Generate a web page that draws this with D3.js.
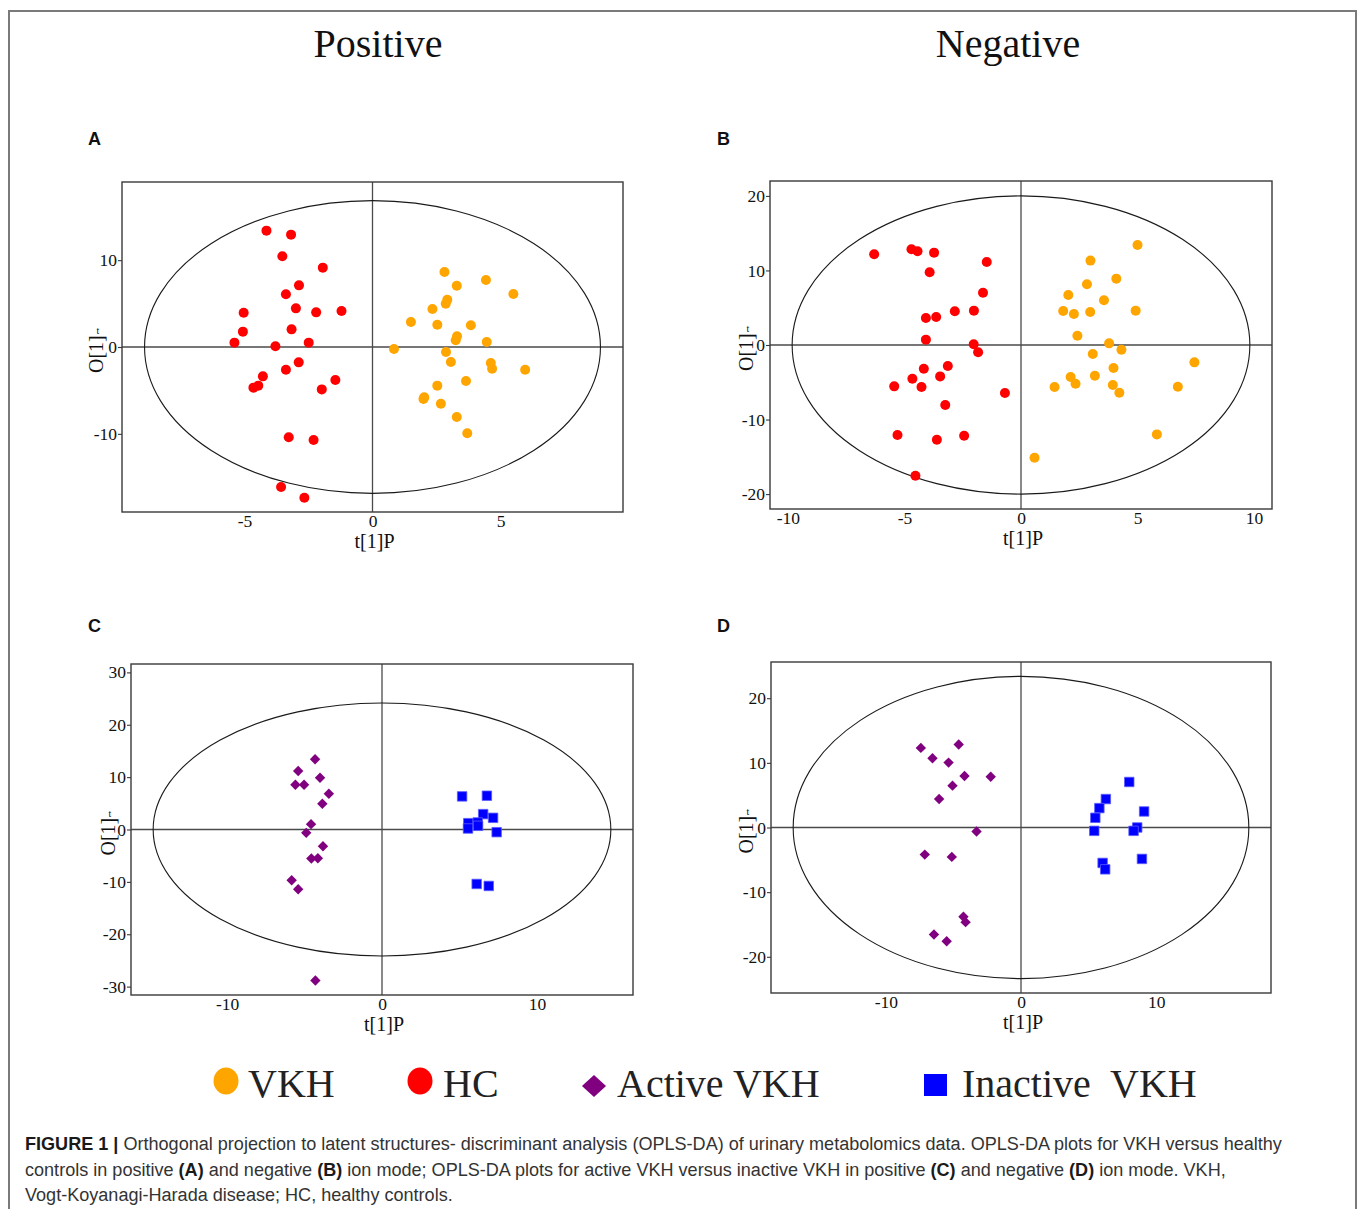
<!DOCTYPE html>
<html>
<head>
<meta charset="utf-8">
<script src="https://cdn.jsdelivr.net/npm/d3@7"></script>
<style>
  html, body { margin: 0; padding: 0; background: #fff; }
  svg { display: block; }
</style>
</head>
<body>
<svg id="fig" width="1358" height="1209"></svg>
<script>
// ---- OPLS-DA scores: [t[1]P, O[1]] for each sample ----

// Positive ion mode, VKH vs HC
const posHC = [
  [-4.14, 13.4], [-3.18, 12.94], [-3.52, 10.44], [-1.94, 9.14], [-2.87, 7.10],
  [-3.38, 6.07], [-2.99, 4.45], [-5.03, 3.95], [-2.20, 3.99], [-1.21, 4.15],
  [-5.06, 1.77], [-3.16, 2.03], [-5.39, 0.50], [-3.79, 0.08], [-2.49, 0.50],
  [-2.88, -1.77], [-3.38, -2.61], [-4.28, -3.38], [-4.65, -4.68], [-4.46, -4.45],
  [-1.45, -3.80], [-1.98, -4.88], [-3.27, -10.40], [-2.30, -10.71], [-3.57, -16.12],
  [-2.66, -17.35]
];
const posVKH = [
  [2.81, 8.64], [4.43, 7.72], [3.29, 7.06], [5.50, 6.10], [2.92, 5.45],
  [2.86, 4.99], [2.34, 4.38], [1.50, 2.88], [2.53, 2.57], [3.84, 2.50],
  [3.30, 1.23], [3.25, 0.77], [4.46, 0.58], [0.84, -0.23], [2.87, -0.58],
  [3.06, -1.73], [4.62, -1.84], [4.67, -2.50], [5.96, -2.61], [3.65, -3.92],
  [2.53, -4.45], [2.02, -5.80], [1.99, -5.99], [2.67, -6.53], [3.29, -8.06],
  [3.70, -9.94]
];

// Negative ion mode, VKH vs HC
const negHC = [
  [-6.30, 12.17], [-4.70, 12.84], [-4.44, 12.57], [-3.73, 12.39], [-1.47, 11.14],
  [-3.92, 9.75], [-1.63, 7.02], [-2.84, 4.52], [-2.02, 4.61], [-4.08, 3.62],
  [-3.64, 3.76], [-4.08, 0.72], [-2.03, 0.09], [-1.84, -0.98], [-3.14, -2.82],
  [-4.17, -3.18], [-3.47, -4.21], [-4.66, -4.52], [-5.44, -5.55], [-4.27, -5.64],
  [-0.69, -6.44], [-3.25, -8.05], [-5.30, -12.08], [-3.61, -12.71], [-2.44, -12.17],
  [-4.53, -17.54]
];
const negVKH = [
  [5.00, 13.42], [2.98, 11.32], [4.09, 8.90], [2.83, 8.14], [2.03, 6.71],
  [3.56, 6.00], [1.81, 4.56], [2.27, 4.16], [2.97, 4.43], [4.92, 4.61],
  [2.42, 1.25], [3.78, 0.22], [4.31, -0.63], [3.08, -1.21], [7.44, -2.33],
  [3.97, -3.09], [2.13, -4.30], [3.17, -4.12], [2.34, -5.19], [1.44, -5.64],
  [3.94, -5.37], [4.22, -6.40], [6.73, -5.59], [5.83, -11.99], [0.58, -15.12]
];

// Positive ion mode, active vs inactive VKH
const posActive = [
  [-4.32, 13.40], [-5.41, 11.17], [-4.00, 9.89], [-5.59, 8.55], [-5.03, 8.55],
  [-3.43, 6.83], [-3.85, 4.91], [-4.58, 1.02], [-4.89, -0.64], [-3.81, -3.19],
  [-4.56, -5.55], [-4.14, -5.49], [-5.83, -9.70], [-5.41, -11.42], [-4.30, -28.84]
];
const posInactive = [
  [5.17, 6.32], [6.77, 6.45], [6.53, 2.94], [7.17, 2.23], [5.57, 1.21],
  [6.18, 1.34], [6.20, 0.70], [5.55, 0.19], [7.40, -0.51], [6.11, -10.40],
  [6.89, -10.78]
];

// Negative ion mode, active vs inactive VKH
const negActive = [
  [-7.41, 12.31], [-4.61, 12.83], [-6.55, 10.71], [-5.36, 10.04], [-4.18, 7.97],
  [-2.24, 7.86], [-5.07, 6.47], [-6.06, 4.40], [-3.29, -0.62], [-7.12, -4.19],
  [-5.12, -4.55], [-4.26, -13.81], [-4.10, -14.64], [-6.44, -16.55], [-5.50, -17.59]
];
const negInactive = [
  [8.01, 7.04], [6.28, 4.40], [5.80, 3.00], [9.11, 2.48], [5.50, 1.50],
  [8.60, 0.00], [8.33, -0.52], [5.42, -0.52], [8.95, -4.86], [6.04, -5.48],
  [6.23, -6.47]
];

// Hotelling's T2 (95%) ellipse semi-axes [t[1]P, O[1]]
const ellipseA = [8.9, 16.85];
const ellipseB = [9.82, 20.0];
const ellipseC = [14.77, 24.15];
const ellipseD = [16.86, 23.38];

// Axis ranges and tick labels
const xDomainA = [-9.78, 9.78], yDomainA = [-19, 19];
const xDomainB = [-10.77, 10.77], yDomainB = [-22, 22];
const xDomainC = [-16.2, 16.2], yDomainC = [-31.6, 31.6];
const xDomainD = [-18.5, 18.5], yDomainD = [-25.6, 25.6];
const xTicksA = [-5, 0, 5], yTicksA = [-10, 0, 10];
const xTicksB = [-10, -5, 0, 5, 10], yTicksB = [-20, -10, 0, 10, 20];
const xTicksC = [-10, 0, 10], yTicksC = [-30, -20, -10, 0, 10, 20, 30];
const xTicksD = [-10, 0, 10], yTicksD = [-20, -10, 0, 10, 20];

const columnTitles = ["Positive", "Negative"];
const legendLabels = ["VKH", "HC", "Active VKH", "Inactive  VKH"];

// ---- styling ----
const COL_VKH = "#FFA500", COL_HC = "#FF0000", COL_ACT = "#800080", COL_INACT = "#0000FF";
const SERIF = "'Liberation Serif', 'Times New Roman', Times, serif";
const SANS = "'Liberation Sans', Arial, Helvetica, sans-serif";

const svg = d3.select("#fig");

// outer figure border (open at the bottom)
svg.append("path")
  .attr("d", "M9,1209 V11 H1356 V1209")
  .attr("fill", "none").attr("stroke", "#7a7a7a").attr("stroke-width", 2);

// column titles
svg.selectAll("text.coltitle").data(columnTitles).join("text")
  .attr("class", "coltitle")
  .attr("x", (d, i) => i === 0 ? 378 : 1008)
  .attr("y", 57)
  .attr("text-anchor", "middle")
  .attr("font-family", SERIF).attr("font-size", 40).attr("fill", "#111")
  .text(d => d);

const panels = [
  { letter: "A", lx: 88, ly: 145, frame: [122, 182, 623, 512], xd: xDomainA, yd: yDomainA,
    xt: xTicksA, yt: yTicksA, ell: ellipseA, ylabX: 103,
    series: [{ data: posHC, shape: "circle", color: COL_HC }, { data: posVKH, shape: "circle", color: COL_VKH }] },
  { letter: "B", lx: 717, ly: 145, frame: [770, 181, 1272, 509], xd: xDomainB, yd: yDomainB,
    xt: xTicksB, yt: yTicksB, ell: ellipseB, ylabX: 753,
    series: [{ data: negHC, shape: "circle", color: COL_HC }, { data: negVKH, shape: "circle", color: COL_VKH }] },
  { letter: "C", lx: 88, ly: 632, frame: [131, 664, 633, 995], xd: xDomainC, yd: yDomainC,
    xt: xTicksC, yt: yTicksC, ell: ellipseC, ylabX: 115,
    series: [{ data: posActive, shape: "diamond", color: COL_ACT }, { data: posInactive, shape: "square", color: COL_INACT }] },
  { letter: "D", lx: 717, ly: 632, frame: [771, 662, 1271, 993], xd: xDomainD, yd: yDomainD,
    xt: xTicksD, yt: yTicksD, ell: ellipseD, ylabX: 753,
    series: [{ data: negActive, shape: "diamond", color: COL_ACT }, { data: negInactive, shape: "square", color: COL_INACT }] }
];

const fmt = d => String(d);   // plain hyphen for negatives

panels.forEach(p => {
  const [x0, y0, x1, y1] = p.frame;
  const x = d3.scaleLinear().domain(p.xd).range([x0, x1]);
  const y = d3.scaleLinear().domain(p.yd).range([y1, y0]);
  const g = svg.append("g");

  // panel letter
  svg.append("text").attr("x", p.lx).attr("y", p.ly)
    .attr("font-family", SANS).attr("font-weight", "bold").attr("font-size", 18)
    .attr("fill", "#111").text(p.letter);

  // zero cross lines
  g.append("line").attr("x1", x(0)).attr("x2", x(0)).attr("y1", y0).attr("y2", y1)
    .attr("stroke", "#4a4a4a").attr("stroke-width", 1.3);
  g.append("line").attr("x1", x0).attr("x2", x1).attr("y1", y(0)).attr("y2", y(0))
    .attr("stroke", "#4a4a4a").attr("stroke-width", 1.3);

  // confidence ellipse
  g.append("ellipse")
    .attr("cx", x(0)).attr("cy", y(0))
    .attr("rx", x(p.ell[0]) - x(0)).attr("ry", y(0) - y(p.ell[1]))
    .attr("fill", "none").attr("stroke", "#1a1a1a").attr("stroke-width", 1.1);

  // points
  p.series.forEach(s => {
    if (s.shape === "circle") {
      g.append("g").selectAll("circle").data(s.data).join("circle")
        .attr("cx", d => x(d[0])).attr("cy", d => y(d[1])).attr("r", 5)
        .attr("fill", s.color);
    } else if (s.shape === "diamond") {
      const sym = d3.symbol(d3.symbolSquare, 54);
      g.append("g").selectAll("path").data(s.data).join("path")
        .attr("d", sym)
        .attr("transform", d => `translate(${x(d[0])},${y(d[1])}) rotate(45)`)
        .attr("fill", s.color);
    } else {
      const sym = d3.symbol(d3.symbolSquare, 90);
      g.append("g").selectAll("path").data(s.data).join("path")
        .attr("d", sym)
        .attr("transform", d => `translate(${x(d[0])},${y(d[1])})`)
        .attr("fill", s.color).attr("stroke", "#5c5cff").attr("stroke-width", 0.8);
    }
  });

  // frame
  g.append("rect").attr("x", x0).attr("y", y0).attr("width", x1 - x0).attr("height", y1 - y0)
    .attr("fill", "none").attr("stroke", "#3a3a3a").attr("stroke-width", 1.4);

  // y axis
  const ya = svg.append("g").attr("transform", `translate(${x0},0)`)
    .call(d3.axisLeft(y).tickValues(p.yt).tickSize(4).tickPadding(1).tickFormat(fmt));
  ya.select(".domain").remove();
  ya.selectAll("line").attr("stroke", "#3a3a3a").attr("stroke-width", 1.1);
  ya.selectAll("text").attr("font-family", SERIF).attr("font-size", 17.5).attr("fill", "#111");

  // x axis
  const xa = svg.append("g").attr("transform", `translate(0,${y1})`)
    .call(d3.axisBottom(x).tickValues(p.xt).tickSize(0).tickPadding(3).tickFormat(fmt));
  xa.select(".domain").remove();
  xa.selectAll("text").attr("font-family", SERIF).attr("font-size", 17.5).attr("fill", "#111");

  // axis titles
  svg.append("text").attr("x", (x0 + x1) / 2 + 2).attr("y", y1 + 36)
    .attr("text-anchor", "middle").attr("font-family", SERIF).attr("font-size", 20)
    .attr("fill", "#111").text("t[1]P");
  const cy = (y0 + y1) / 2;
  svg.append("text")
    .attr("transform", `translate(${p.ylabX},${cy + 26}) rotate(-90)`)
    .attr("font-family", SERIF).attr("font-size", 20).attr("fill", "#111")
    .text("O[1]");
  svg.append("text").attr("x", p.ylabX - 5).attr("y", cy - 13)
    .attr("text-anchor", "middle").attr("font-family", SERIF).attr("font-size", 10)
    .attr("fill", "#111").text("t");
});

// ---- legend ----
const leg = svg.append("g");
const legMarks = [
  { shape: "circle", color: COL_VKH, cx: 226, cy: 1081, tx: 248 },
  { shape: "circle", color: COL_HC, cx: 420, cy: 1081, tx: 443 },
  { shape: "diamond", color: COL_ACT, cx: 594, cy: 1086, tx: 617 },
  { shape: "square", color: COL_INACT, cx: 935.5, cy: 1085, tx: 962 }
];
legMarks.forEach((m, i) => {
  if (m.shape === "circle") {
    leg.append("ellipse").attr("cx", m.cx).attr("cy", m.cy).attr("rx", 12.5).attr("ry", 13.5)
      .attr("fill", m.color);
  } else if (m.shape === "diamond") {
    leg.append("path").attr("d", d3.symbol(d3.symbolSquare, 290)())
      .attr("transform", `translate(${m.cx},${m.cy}) scale(1,0.92) rotate(45)`)
      .attr("fill", m.color);
  } else {
    leg.append("rect").attr("x", m.cx - 11.5).attr("y", m.cy - 11).attr("width", 23).attr("height", 22)
      .attr("fill", m.color);
  }
  leg.append("text").attr("x", m.tx).attr("y", 1097)
    .attr("font-family", SERIF).attr("font-size", 40).attr("fill", "#222")
    .style("white-space", "pre")
    .text(legendLabels[i]);
});

// ---- caption ----
const captionLines = [
  [["FIGURE 1 | ", true], ["Orthogonal projection to latent structures- discriminant analysis (OPLS-DA) of urinary metabolomics data. OPLS-DA plots for VKH versus healthy", false]],
  [["controls in positive ", false], ["(A)", true], [" and negative ", false], ["(B)", true],
   [" ion mode; OPLS-DA plots for active VKH versus inactive VKH in positive ", false], ["(C)", true],
   [" and negative ", false], ["(D)", true], [" ion mode. VKH,", false]],
  [["Vogt-Koyanagi-Harada disease; HC, healthy controls.", false]]
];
const capBase = [1150, 1175.5, 1201];
const capNodes = captionLines.map((segs, li) => {
  const t = svg.append("text").attr("x", 25).attr("y", capBase[li])
    .attr("font-family", SANS).attr("font-size", 17).attr("fill", "#333")
    .style("white-space", "pre");
  segs.forEach(([txt, bold]) => {
    t.append("tspan").attr("font-weight", bold ? "bold" : null)
      .attr("fill", bold ? "#1a1a1a" : null).text(txt);
  });
  return t;
});
// fit the caption width to the text block
const w0 = capNodes[0].node().getComputedTextLength();
const fs = 17 * 1258 / w0;
capNodes.forEach(t => t.attr("font-size", fs));
</script>
</body>
</html>
